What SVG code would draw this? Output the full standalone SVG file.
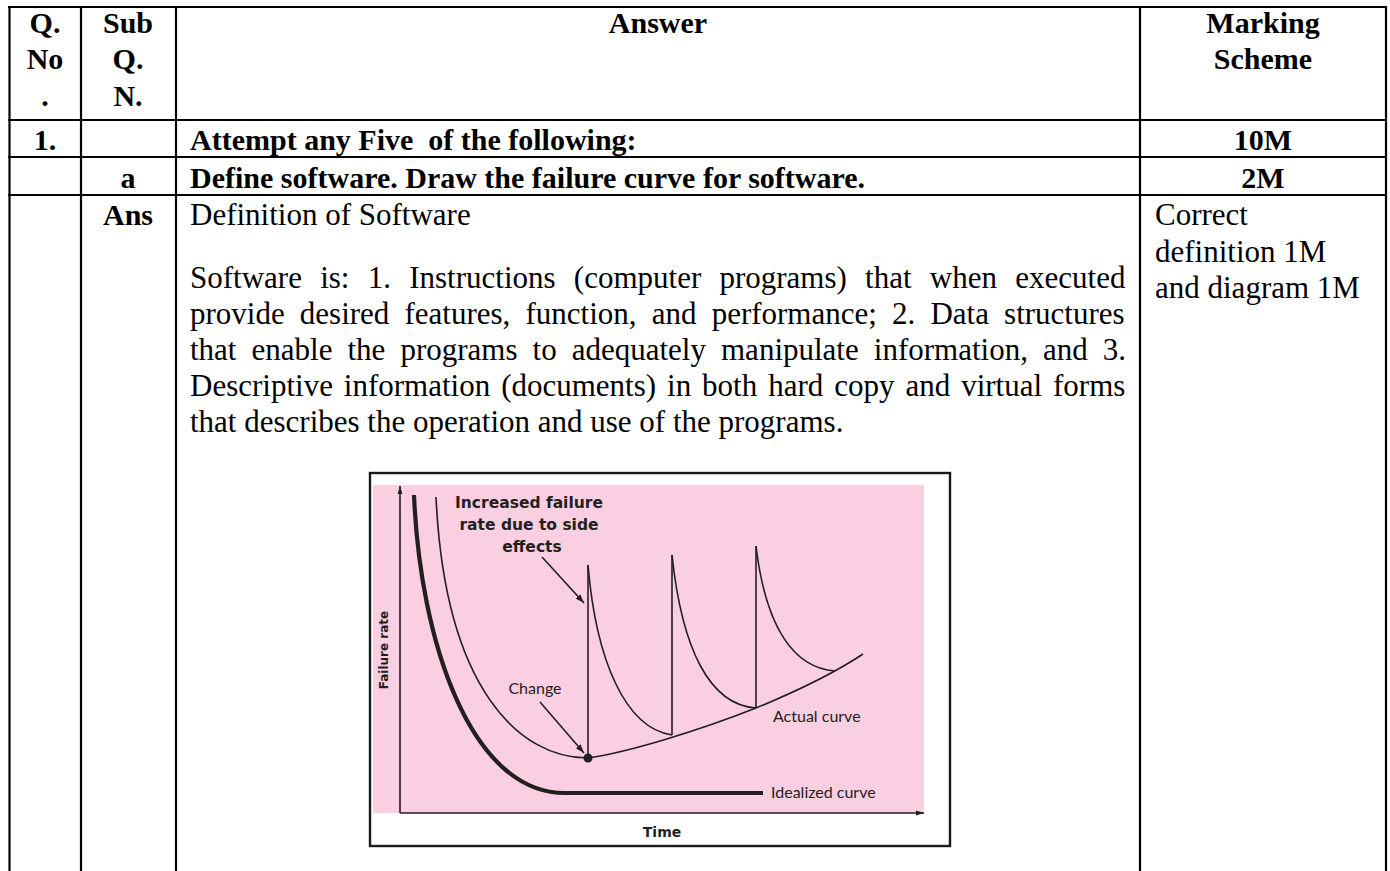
<svg xmlns="http://www.w3.org/2000/svg" width="1390" height="871" viewBox="0 0 1390 871">
  <style>
    .grid { stroke: #000; stroke-width: 2.2; fill: none; }
    .hd { font-family: "Liberation Serif", "Times New Roman", serif; font-weight: bold; font-size: 30px; fill: #000; }
    .tx { font-family: "Liberation Serif", "Times New Roman", serif; font-size: 31px; fill: #000; }
    .mid { text-anchor: middle; }
    .ln { stroke: #231f20; fill: none; stroke-width: 1.6; }
    .thick { stroke: #231f20; fill: none; stroke-width: 4.2; }
    .cl { font-family: "Lato", "Open Sans", sans-serif; font-size: 16px; fill: #231f20; }
    .cb { font-family: "DejaVu Sans", "Open Sans", sans-serif; font-weight: bold; fill: #231f20; }
  </style>
  <defs>
    <marker id="ah" viewBox="0 0 10 10" refX="10" refY="5" markerWidth="9" markerHeight="9" markerUnits="userSpaceOnUse" orient="auto">
      <path d="M0,1.5 L10,5 L0,8.5 Z" fill="#231f20"/>
    </marker>
    <marker id="axh" viewBox="0 0 10 10" refX="10" refY="5" markerWidth="14" markerHeight="8" markerUnits="userSpaceOnUse" orient="auto">
      <path d="M0,2 L10,5 L0,8 Z" fill="#231f20"/>
    </marker>
  </defs>

  <rect width="1390" height="871" fill="#fff"/>

  <!-- table rules -->
  <g id="table-grid" class="grid">
    <line x1="8" y1="7" x2="1387" y2="7"/>
    <line x1="8" y1="120" x2="1387" y2="120"/>
    <line x1="8" y1="157" x2="1387" y2="157"/>
    <line x1="8" y1="195" x2="1387" y2="195"/>
    <line x1="9.5" y1="6" x2="9.5" y2="871"/>
    <line x1="81" y1="6" x2="81" y2="871"/>
    <line x1="176" y1="6" x2="176" y2="871"/>
    <line x1="1140" y1="6" x2="1140" y2="871"/>
    <line x1="1386" y1="6" x2="1386" y2="871"/>
  </g>

  <!-- header row -->
  <g id="header">
    <text class="hd mid" x="45" y="33">Q.</text>
    <text class="hd mid" x="45" y="69">No</text>
    <text class="hd mid" x="45" y="106">.</text>
    <text class="hd mid" x="128" y="33">Sub</text>
    <text class="hd mid" x="128" y="69">Q.</text>
    <text class="hd mid" x="128" y="106">N.</text>
    <text class="hd mid" x="658" y="33">Answer</text>
    <text class="hd mid" x="1263" y="33">Marking</text>
    <text class="hd mid" x="1263" y="69">Scheme</text>
  </g>

  <g id="row-1">
    <text class="hd mid" x="45" y="150">1.</text>
    <text class="hd" x="190" y="150" xml:space="preserve">Attempt any Five  of the following:</text>
    <text class="hd mid" x="1263" y="150">10M</text>
  </g>

  <g id="row-a">
    <text class="hd mid" x="128" y="188">a</text>
    <text class="hd" x="190" y="188">Define software. Draw the failure curve for software.</text>
    <text class="hd mid" x="1263" y="188">2M</text>
  </g>

  <g id="row-ans">
    <text class="hd mid" x="128" y="225">Ans</text>
    <text class="tx" x="190" y="225">Definition of Software</text>
    <text class="tx" x="190" y="288" word-spacing="10.5">Software is: 1. Instructions (computer programs) that when executed</text>
    <text class="tx" x="190" y="324" word-spacing="7.4">provide desired features, function, and performance; 2. Data structures</text>
    <text class="tx" x="190" y="360" word-spacing="7.3">that enable the programs to adequately manipulate information, and 3.</text>
    <text class="tx" x="190" y="396" word-spacing="3.2">Descriptive information (documents) in both hard copy and virtual forms</text>
    <text class="tx" x="190" y="432">that describes the operation and use of the programs.</text>
    <text class="tx" x="1155" y="225">Correct</text>
    <text class="tx" x="1155" y="262">definition 1M</text>
    <text class="tx" x="1155" y="298">and diagram 1M</text>
  </g>

  <!-- failure curve figure -->
  <g id="failure-chart">
    <rect x="370" y="473" width="580" height="373" fill="#fff" stroke="#1a1a1a" stroke-width="2.4"/>
    <rect x="373" y="485" width="551" height="328" fill="#f9cfe1"/>

    <g id="axes">
      <line class="ln" x1="400" y1="813" x2="400" y2="486" marker-end="url(#axh)"/>
      <line class="ln" x1="400" y1="813" x2="924" y2="813" marker-end="url(#axh)"/>
    </g>

    <path id="idealized-curve" class="thick" d="M414,495 C420,640 470,793 565,793 L763,793"/>

    <g id="actual-curve" class="ln">
      <path d="M436,497 C445,690 520,758 588,758"/>
      <path d="M588,758 C630,752 700,730 756,708 C790,694 830,676 863,654"/>
      <line x1="588" y1="758" x2="588" y2="565"/>
      <line x1="672" y1="735" x2="672" y2="555"/>
      <line x1="756" y1="708" x2="756" y2="546"/>
      <path d="M588,565 C596,660 625,728 672,735"/>
      <path d="M672,555 C682,650 710,705 756,708"/>
      <path d="M756,546 C766,630 795,668 835,671"/>
    </g>
    <circle cx="588" cy="758" r="4.5" fill="#231f20"/>

    <g id="callouts" class="ln">
      <line x1="542" y1="557" x2="584" y2="603" marker-end="url(#ah)"/>
      <line x1="540" y1="702" x2="584" y2="753" marker-end="url(#ah)"/>
    </g>

    <g id="chart-labels">
      <text class="cb mid" font-size="15.5" x="529" y="508">Increased failure</text>
      <text class="cb mid" font-size="15.5" x="529" y="530">rate due to side</text>
      <text class="cb mid" font-size="15.5" x="532" y="552">effects</text>
      <text class="cl mid" x="535" y="694">Change</text>
      <text class="cl" x="773" y="722">Actual curve</text>
      <text class="cl" x="771" y="798">Idealized curve</text>
      <text class="cb mid" font-size="14" x="662" y="837">Time</text>
      <text class="cb mid" font-size="12" transform="translate(388,650) rotate(-90)">Failure rate</text>
    </g>
  </g>
</svg>
